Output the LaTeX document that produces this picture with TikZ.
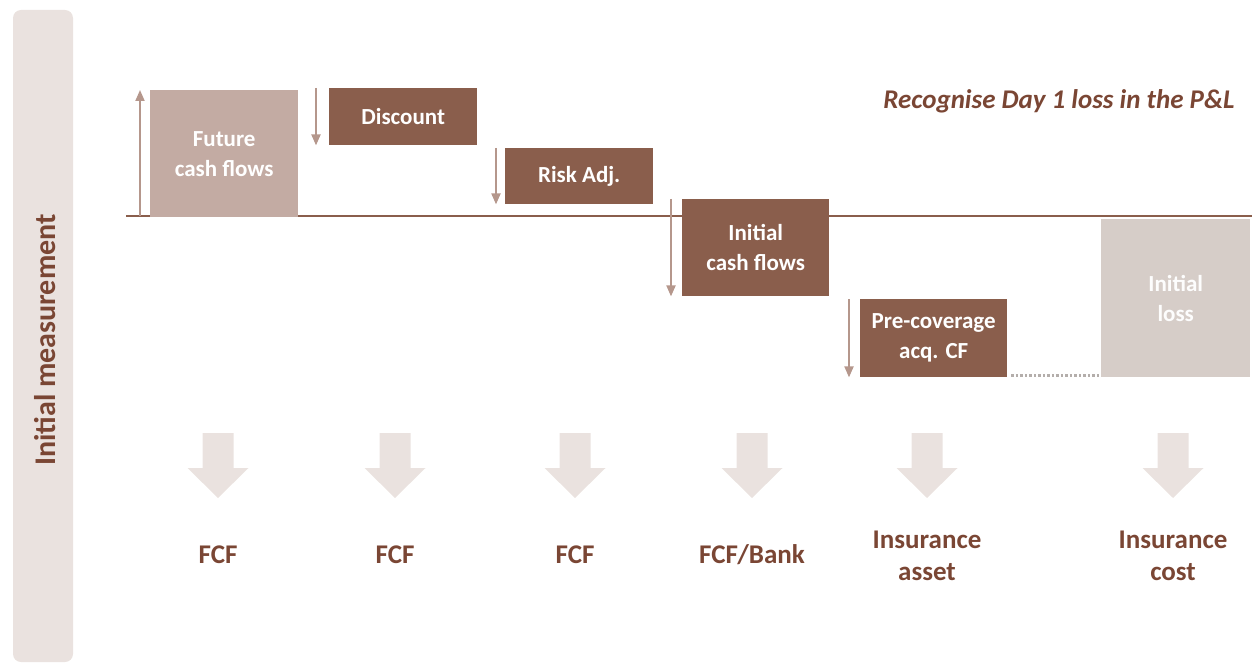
\documentclass[tikz,border=0pt]{standalone}
\usepackage{fontspec}
\setmainfont{Carlito}
\usetikzlibrary{calc,arrows.meta}
\definecolor{brownbox}{HTML}{8A5E4C}
\definecolor{lightbox}{HTML}{C3ABA3}
\definecolor{lossbox}{HTML}{D6CDC8}
\definecolor{palebar}{HTML}{EAE2DF}
\definecolor{smallarrow}{HTML}{B5978C}
\definecolor{labeltext}{HTML}{7A4634}
\begin{document}
\begin{tikzpicture}[x=1pt,y=-1pt,
  stepbox/.style={fill=brownbox, text=white, anchor=north west, inner sep=0pt,
    align=center, font=\fontsize{23}{30}\selectfont\bfseries},
  shift arrow/.style={draw=smallarrow, line width=2pt,
    -{Triangle[length=11pt,width=9pt]}},
  outcome/.style={text=labeltext, align=center, font=\fontsize{27}{32}\selectfont\bfseries},
  pics/bigdown/.style={code={
    \fill[palebar] (-15.5,0) -- (15.5,0) -- (15.5,35) -- (30.5,35) -- (0,65)
      -- (-30.5,35) -- (-15.5,35) -- cycle;}}
]
\useasboundingbox (0,0) rectangle (1252,663);

% side band with rotated title
\fill[palebar, rounded corners=8pt] (13,10) rectangle (73,662);
\node[rotate=90, text=labeltext, font=\fontsize{30}{34}\selectfont\bfseries] (title) at (45,340) {Initial measurement};

% zero line
\coordinate (zl) at (126,216);
\coordinate (zr) at (1252,216);
\draw[brownbox, line width=2pt] (zl) -- (zr);

% value blocks
\node[stepbox, fill=lightbox, minimum width=148pt, minimum height=127pt] (fcf) at (150,90) {Future\\cash flows};
\node[stepbox, minimum width=148pt, minimum height=57pt] (disc) at (329,88) {Discount};
\node[stepbox, minimum width=148pt, minimum height=56pt] (risk) at (505,148) {Risk Adj.};
\node[stepbox, minimum width=147pt, minimum height=97pt] (icf) at (682,199) {Initial\\cash flows};
\node[stepbox, minimum width=147pt, minimum height=78pt] (pre) at (860,299) {Pre-coverage\\acq. CF};
\node[stepbox, fill=lossbox, text=white!96!lossbox, minimum width=149pt, minimum height=158pt] (loss) at (1101,219) {Initial\\loss};

% movement arrows beside the blocks
\draw[shift arrow] ($(fcf.south west)+(-10,-1)$) -- ($(fcf.north west)+(-10,0)$);
\draw[shift arrow] ($(disc.north west)+(-13,0)$) -- ($(disc.south west)+(-13,0)$);
\draw[shift arrow] ($(risk.north west)+(-9,0)$) -- ($(risk.south west)+(-9,0)$);
\draw[shift arrow] ($(icf.north west)+(-11,0)$) -- ($(icf.south west)+(-11,0)$);
\draw[shift arrow] ($(pre.north west)+(-11,0)$) -- ($(pre.south west)+(-11,0)$);

% dotted link to the loss block
\draw[lossbox!60!gray, line width=2.5pt, dotted] ($(pre.south east)+(4,-2)$) -- ($(pre.south east -| loss.west)+(-2,-2)$);

% heading
\node[anchor=east, text=labeltext, font=\fontsize{27}{30}\selectfont\bfseries\itshape] (head) at (1238,101) {Recognise Day 1 loss in the P\&L};

% outcome arrows and labels
\pic at (218,433) {bigdown};
\pic at (395,433) {bigdown};
\pic at (575,433) {bigdown};
\pic at (752,433) {bigdown};
\pic at (927,433) {bigdown};
\pic at (1173,433) {bigdown};
\node[outcome] (o1) at (218,555) {FCF};
\node[outcome] (o2) at (395,555) {FCF};
\node[outcome] (o3) at (575,555) {FCF};
\node[outcome] (o4) at (752,555) {FCF/Bank};
\node[outcome] (o5) at (927,556) {Insurance\\asset};
\node[outcome] (o6) at (1173,556) {Insurance\\cost};
\end{tikzpicture}
\end{document}
